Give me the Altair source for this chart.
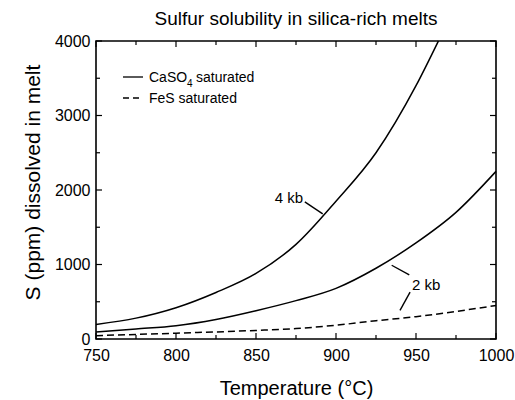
import altair as alt
import pandas as pd

FONT = "Liberation Sans"

# CaSO4-saturated solubility at 4 kb (curve leaves the frame near 964 °C)
temp_4kb = [750, 775, 800, 825, 850, 875, 900, 925, 950, 964]
ppm_4kb = [195, 280, 420, 625, 880, 1270, 1850, 2500, 3400, 4000]

# CaSO4-saturated solubility at 2 kb
temp_2kb = [750, 775, 800, 825, 850, 875, 900, 925, 950, 975, 1000]
ppm_2kb = [95, 135, 178, 262, 380, 515, 680, 950, 1290, 1700, 2250]

# FeS-saturated solubility
temp_fes = [750, 800, 850, 875, 900, 925, 950, 975, 1000]
ppm_fes = [45, 78, 115, 140, 185, 245, 300, 370, 450]

# axis tick positions
x_major = [750, 800, 850, 900, 950, 1000]
x_minor = [775, 825, 875, 925, 975]
y_major = [0, 1000, 2000, 3000, 4000]
y_minor = [500, 1500, 2500, 3500]

W, H = 400, 298

xs = alt.Scale(domain=[750, 1000], nice=False, zero=False)
ys = alt.Scale(domain=[0, 4000], nice=False)

caso4 = pd.DataFrame(
    {"T": temp_4kb + temp_2kb,
     "S": ppm_4kb + ppm_2kb,
     "curve": ["4 kb"] * len(temp_4kb) + ["2 kb"] * len(temp_2kb)}
)
fes = pd.DataFrame({"T": temp_fes, "S": ppm_fes})

x_axis = alt.Axis(
    values=x_major, format="d", ticks=False, domain=False, grid=False,
    labelFlush=False, labelOverlap=False,
    labelFont=FONT, labelFontSize=16, labelColor="black", labelPadding=8,
    title="Temperature (°C)", titleFont=FONT, titleFontSize=20,
    titleFontWeight="normal", titleColor="black", titlePadding=15,
)
y_axis = alt.Axis(
    values=y_major, format="d", ticks=False, domain=False, grid=False,
    labelFlush=False, labelOverlap=False,
    labelFont=FONT, labelFontSize=16, labelColor="black", labelPadding=6,
    title="S (ppm) dissolved in melt", titleFont=FONT, titleFontSize=21,
    titleFontWeight="normal", titleColor="black", titlePadding=11,
    titleY=141,
)

solid = alt.Chart(caso4).mark_line(
    color="black", strokeWidth=1.5, interpolate="monotone"
).encode(
    x=alt.X("T:Q", scale=xs, axis=x_axis),
    y=alt.Y("S:Q", scale=ys, axis=y_axis),
    detail="curve:N",
    order="T:Q",
)
dashed = alt.Chart(fes).mark_line(
    color="black", strokeWidth=1.5, strokeDash=[7, 4], interpolate="monotone"
).encode(x=alt.X("T:Q", scale=xs), y=alt.Y("S:Q", scale=ys))


def ticks_x(vals, y0, y1):
    return alt.Chart(pd.DataFrame({"T": vals})).mark_rule(
        color="black", strokeWidth=1.2
    ).encode(x=alt.X("T:Q", scale=xs), y=alt.value(y0), y2=alt.value(y1))


def ticks_y(vals, x0, x1):
    return alt.Chart(pd.DataFrame({"S": vals})).mark_rule(
        color="black", strokeWidth=1.2
    ).encode(y=alt.Y("S:Q", scale=ys), x=alt.value(x0), x2=alt.value(x1))


ticks = [
    ticks_x(x_major, H, H - 6), ticks_x(x_minor, H, H - 4),
    ticks_x(x_major, 0, 6), ticks_x(x_minor, 0, 4),
    ticks_y(y_major, 0, 6), ticks_y(y_minor, 0, 4),
    ticks_y(y_major, W, W - 6), ticks_y(y_minor, W, W - 4),
]

# pressure labels with their leader lines
labels = pd.DataFrame({"T": [879.5, 947.5], "S": [1890, 725], "txt": ["4 kb", "2 kb"]})
lab4 = alt.Chart(labels.iloc[[0]]).mark_text(
    font=FONT, fontSize=15, align="right", baseline="middle", color="black"
).encode(x=alt.X("T:Q", scale=xs), y=alt.Y("S:Q", scale=ys), text="txt:N")
lab2 = alt.Chart(labels.iloc[[1]]).mark_text(
    font=FONT, fontSize=15, align="left", baseline="middle", color="black"
).encode(x=alt.X("T:Q", scale=xs), y=alt.Y("S:Q", scale=ys), text="txt:N")

leaders = pd.DataFrame({
    "T": [880.5, 934.8, 946.3], "S": [1840, 990, 630],
    "T2": [891.7, 945.8, 940.0], "S2": [1680, 860, 385],
})
lead = alt.Chart(leaders).mark_rule(color="black", strokeWidth=1.4).encode(
    x=alt.X("T:Q", scale=xs), y=alt.Y("S:Q", scale=ys), x2="T2:Q", y2="S2:Q"
)

# legend
leg_solid = alt.Chart(pd.DataFrame({"a": [0]})).mark_rule(color="black", strokeWidth=1.3).encode(
    x=alt.value(27), x2=alt.value(47), y=alt.value(36)
)
leg_dash = alt.Chart(pd.DataFrame({"a": [0]})).mark_rule(
    color="black", strokeWidth=1.3, strokeDash=[6, 4]
).encode(x=alt.value(27), x2=alt.value(47), y=alt.value(57))


def leg_text(txt, x, y, size):
    return alt.Chart(pd.DataFrame({"t": [txt]})).mark_text(
        font=FONT, fontSize=size, align="left", baseline="alphabetic", color="black"
    ).encode(x=alt.value(x), y=alt.value(y), text="t:N")


legend = [
    leg_solid, leg_dash,
    leg_text("CaSO", 53, 41, 14),
    leg_text("4", 91, 46, 10),
    leg_text("saturated", 100, 41, 14),
    leg_text("FeS saturated", 53, 62, 14),
]

chart = alt.layer(solid, dashed, *ticks, lab4, lab2, lead, *legend).properties(
    width=W, height=H,
    autosize="none",
    padding={"left": 96, "top": 41, "right": 19, "bottom": 61},
    title=alt.TitleParams(
        "Sulfur solubility in silica-rich melts", font=FONT, fontSize=19,
        fontWeight="normal", color="black", anchor="middle", frame="group",
        offset=4,
    ),
).configure_view(stroke="black", strokeWidth=1.6)

chart.save("out.html", embed_options={"renderer": "svg", "actions": False})
